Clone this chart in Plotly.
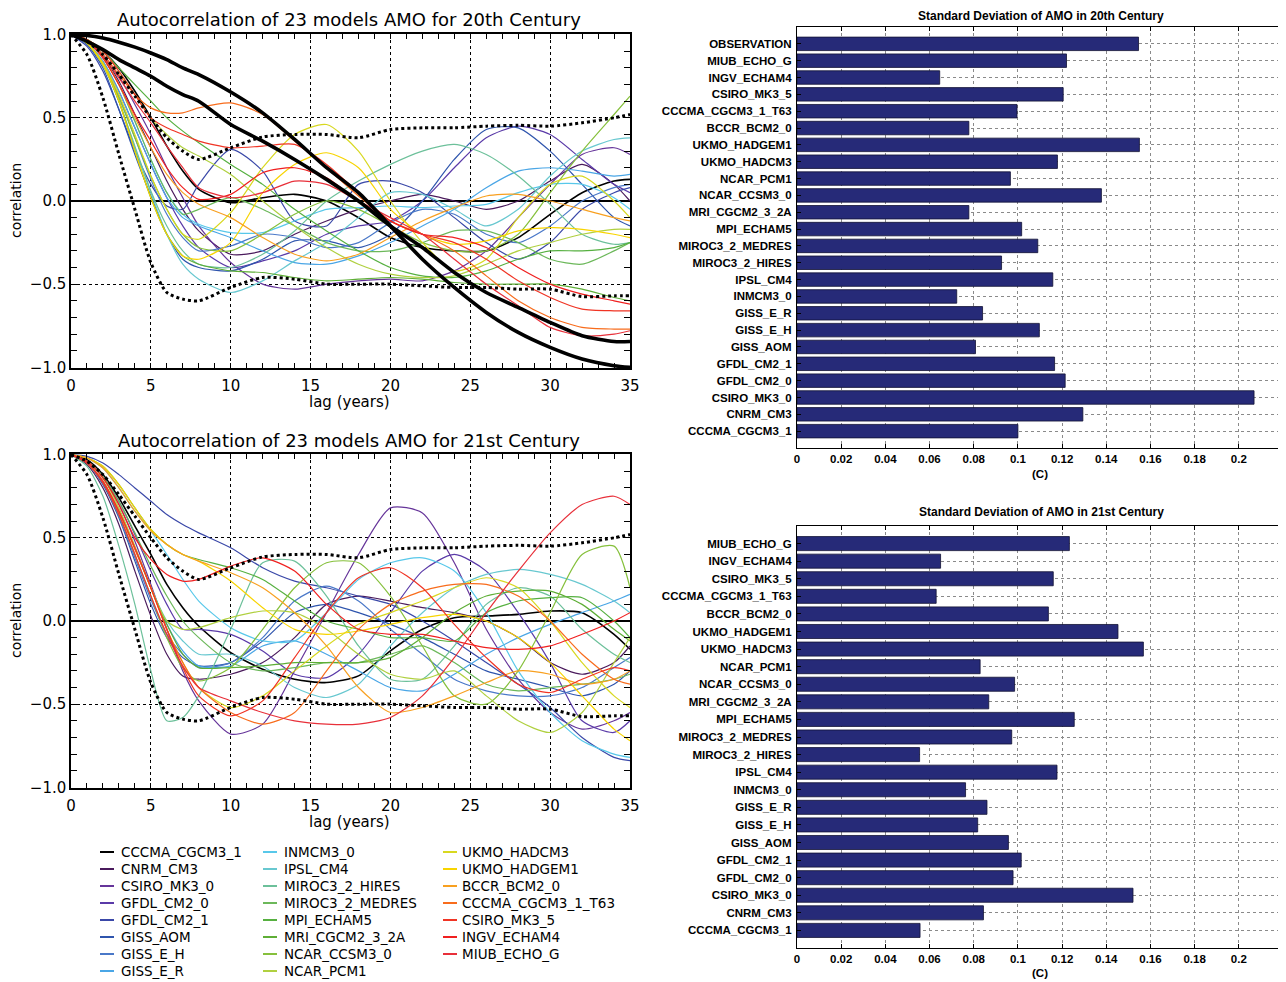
import plotly.graph_objects as go

W, H = 1286, 982
OFF = 8  # the page body margin shifts the figure by this many pixels

# ---------------- data ----------------
LAG = [0, 1, 2, 3, 4, 5, 6, 7, 8, 10, 12, 14, 16, 18, 20, 22, 24, 26, 28, 30, 32, 34, 35]

MODELS = ["CCCMA_CGCM3_1", "CNRM_CM3", "CSIRO_MK3_0", "GFDL_CM2_0", "GFDL_CM2_1", "GISS_AOM",
          "GISS_E_H", "GISS_E_R", "INMCM3_0", "IPSL_CM4", "MIROC3_2_HIRES", "MIROC3_2_MEDRES",
          "MPI_ECHAM5", "MRI_CGCM2_3_2A", "NCAR_CCSM3_0", "NCAR_PCM1", "UKMO_HADCM3", "UKMO_HADGEM1",
          "BCCR_BCM2_0", "CCCMA_CGCM3_1_T63", "CSIRO_MK3_5", "INGV_ECHAM4", "MIUB_ECHO_G"]

COLORS = ["#000000", "#4a1a5c", "#66359a", "#5a3aa8", "#3a48a8", "#2f55ad", "#4a78c8", "#4aa6e6",
          "#58c8ea", "#68c8d0", "#6cc09a", "#6cb85a", "#56b040", "#5eae36", "#86c03c", "#b0d040",
          "#d8d820", "#f8d400", "#f8a020", "#f86c1c", "#f03424", "#f02020", "#e8303a"]

# 20th century autocorrelation (values at LAG)
A20_CCCMA_CGCM3_1 = [1, 0.97, 0.9, 0.8, 0.66, 0.5, 0.33, 0.18, 0.07, -0.01, 0.02, 0.04, 0.0, -0.1, -0.22, -0.28, -0.3, -0.3, -0.22, -0.08, 0.05, 0.12, 0.13]
A20_CNRM_CM3 = [1, 0.96, 0.87, 0.72, 0.52, 0.32, 0.12, -0.05, -0.18, -0.32, -0.3, -0.2, -0.12, -0.05, 0.0, 0.04, 0.0, -0.05, 0.0, 0.12, 0.22, 0.1, 0.0]
A20_CSIRO_MK3_0 = [1, 0.96, 0.88, 0.75, 0.58, 0.4, 0.2, 0.02, -0.15, -0.37, -0.5, -0.53, -0.5, -0.48, -0.47, -0.48, -0.42, -0.3, -0.1, 0.1, 0.28, 0.32, 0.28]
A20_GFDL_CM2_0 = [1, 0.95, 0.84, 0.66, 0.44, 0.22, 0.02, -0.15, -0.28, -0.4, -0.36, -0.3, -0.2, -0.15, -0.12, 0.0, 0.2, 0.38, 0.45, 0.4, 0.25, 0.1, 0.05]
A20_GFDL_CM2_1 = [1, 0.93, 0.78, 0.55, 0.3, 0.1, -0.03, -0.05, 0.1, 0.31, 0.18, -0.12, -0.15, 0.1, 0.12, 0.05, -0.1, -0.25, -0.35, -0.25, -0.05, 0.05, 0.08]
A20_GISS_AOM = [1, 0.94, 0.8, 0.55, 0.28, 0.03, -0.2, -0.35, -0.4, -0.42, -0.35, -0.24, -0.24, -0.28, -0.2, 0.0, 0.25, 0.43, 0.44, 0.3, 0.1, -0.1, -0.15]
A20_GISS_E_H = [1, 0.95, 0.83, 0.63, 0.38, 0.13, -0.08, -0.22, -0.3, -0.27, -0.2, -0.22, -0.28, -0.25, -0.13, -0.05, -0.08, -0.2, -0.25, -0.15, 0.0, 0.08, 0.1]
A20_GISS_E_R = [1, 0.95, 0.84, 0.66, 0.44, 0.22, 0.02, -0.1, -0.15, -0.22, -0.3, -0.37, -0.38, -0.33, -0.25, -0.15, -0.05, 0.08, 0.18, 0.2, 0.18, 0.15, 0.16]
A20_INMCM3_0 = [1, 0.96, 0.86, 0.7, 0.48, 0.25, 0.05, -0.08, -0.14, -0.19, -0.19, -0.12, -0.05, -0.04, -0.03, -0.04, -0.03, -0.02, 0.05, 0.1, 0.1, 0.02, -0.05]
A20_IPSL_CM4 = [1, 0.95, 0.82, 0.6, 0.32, 0.05, -0.2, -0.38, -0.47, -0.55, -0.48, -0.36, -0.25, -0.1, 0.05, 0.04, -0.05, -0.15, -0.05, 0.15, 0.3, 0.37, 0.38]
A20_MIROC3_2_HIRES = [1, 0.95, 0.82, 0.6, 0.33, 0.06, -0.15, -0.3, -0.38, -0.4, -0.32, -0.18, 0.0, 0.12, 0.22, 0.3, 0.34, 0.28, 0.15, -0.02, -0.2, -0.26, -0.25]
A20_MIROC3_2_MEDRES = [1, 0.96, 0.86, 0.7, 0.48, 0.25, 0.05, -0.08, -0.05, 0.02, -0.05, -0.15, -0.25, -0.3, -0.3, -0.25, -0.18, -0.18, -0.25, -0.35, -0.38, -0.3, -0.25]
A20_MPI_ECHAM5 = [1, 0.97, 0.9, 0.8, 0.7, 0.6, 0.5, 0.42, 0.35, 0.22, 0.1, -0.05, -0.18, -0.3, -0.4, -0.45, -0.46, -0.42, -0.35, -0.3, -0.3, -0.28, -0.25]
A20_MRI_CGCM2_3_2A = [1, 0.95, 0.82, 0.6, 0.3, 0.02, -0.2, -0.33, -0.38, -0.42, -0.43, -0.46, -0.48, -0.47, -0.46, -0.47, -0.49, -0.5, -0.5, -0.5, -0.53, -0.58, -0.6]
A20_NCAR_CCSM3_0 = [1, 0.95, 0.82, 0.62, 0.38, 0.15, -0.05, -0.2, -0.28, -0.3, -0.2, -0.08, 0.0, -0.05, -0.15, -0.25, -0.3, -0.3, -0.2, 0.05, 0.3, 0.52, 0.63]
A20_NCAR_PCM1 = [1, 0.97, 0.9, 0.78, 0.64, 0.5, 0.4, 0.32, 0.27, 0.16, 0.0, -0.15, -0.28, -0.38, -0.44, -0.46, -0.45, -0.38, -0.3, -0.25, -0.2, -0.17, -0.17]
A20_UKMO_HADCM3 = [1, 0.95, 0.83, 0.64, 0.4, 0.15, -0.05, -0.2, -0.23, -0.07, 0.2, 0.4, 0.46, 0.3, 0.0, -0.25, -0.42, -0.35, -0.1, 0.1, 0.15, 0.0, -0.1]
A20_UKMO_HADGEM1 = [1, 0.95, 0.82, 0.6, 0.3, 0.02, -0.2, -0.33, -0.35, -0.25, 0.05, 0.22, 0.29, 0.2, -0.05, -0.2, -0.26, -0.24, -0.18, -0.16, -0.17, -0.2, -0.22]
A20_BCCR_BCM2_0 = [1, 0.96, 0.86, 0.7, 0.5, 0.32, 0.16, 0.05, -0.02, -0.1, -0.22, -0.32, -0.36, -0.32, -0.22, -0.12, -0.04, 0.03, 0.04, 0.0, -0.05, -0.1, -0.12]
A20_CCCMA_CGCM3_1_T63 = [1, 0.97, 0.88, 0.76, 0.64, 0.56, 0.53, 0.53, 0.56, 0.59, 0.52, 0.36, 0.2, 0.03, -0.12, -0.2, -0.3, -0.45, -0.6, -0.7, -0.76, -0.77, -0.77]
A20_CSIRO_MK3_5 = [1, 0.97, 0.9, 0.78, 0.64, 0.5, 0.44, 0.4, 0.36, 0.32, 0.33, 0.34, 0.22, 0.05, -0.12, -0.2, -0.25, -0.35, -0.48, -0.58, -0.65, -0.66, -0.66]
A20_INGV_ECHAM4 = [1, 0.96, 0.86, 0.7, 0.52, 0.36, 0.2, 0.08, 0.01, 0.04, 0.17, 0.2, 0.14, 0.0, -0.12, -0.2, -0.22, -0.28, -0.4, -0.5, -0.56, -0.6, -0.62]
A20_MIUB_ECHO_G = [1, 0.96, 0.87, 0.74, 0.6, 0.47, 0.33, 0.2, 0.08, 0.02, 0.05, 0.12, 0.1, 0.0, -0.1, -0.2, -0.35, -0.5, -0.63, -0.76, -0.81, -0.8, -0.78]

# observed autocorrelation curves (thick black, 20th century panel)
OBS_A = [1, 0.995, 0.98, 0.955, 0.925, 0.89, 0.85, 0.8, 0.76, 0.655, 0.53, 0.37, 0.2, 0.05, -0.15, -0.35, -0.52, -0.67, -0.79, -0.88, -0.95, -0.99, -1.0]
OBS_B = [1, 0.96, 0.91, 0.85, 0.8, 0.75, 0.69, 0.64, 0.6, 0.46, 0.36, 0.25, 0.13, 0.0, -0.15, -0.28, -0.43, -0.55, -0.64, -0.73, -0.81, -0.845, -0.845]
# dotted bounds (both panels)
BOUND_UP = [1, 0.96, 0.88, 0.76, 0.63, 0.5, 0.38, 0.3, 0.25, 0.32, 0.385, 0.4, 0.4, 0.38, 0.43, 0.44, 0.44, 0.45, 0.455, 0.45, 0.47, 0.5, 0.52]
BOUND_LO = [1, 0.88, 0.62, 0.28, -0.05, -0.37, -0.55, -0.59, -0.6, -0.52, -0.46, -0.47, -0.5, -0.5, -0.5, -0.51, -0.52, -0.52, -0.53, -0.53, -0.575, -0.57, -0.57]

# 21st century autocorrelation
A21_CCCMA_CGCM3_1 = [1, 0.97, 0.88, 0.74, 0.57, 0.4, 0.22, 0.08, -0.03, -0.19, -0.29, -0.35, -0.37, -0.33, -0.18, -0.05, 0.02, 0.03, 0.04, 0.06, 0.05, -0.08, -0.17]
A21_CNRM_CM3 = [1, 0.94, 0.8, 0.58, 0.3, 0.03, -0.2, -0.33, -0.35, -0.32, -0.25, -0.1, 0.1, 0.15, 0.12, 0.08, 0.05, 0.0, -0.1, -0.25, -0.32, -0.25, -0.15]
A21_CSIRO_MK3_0 = [1, 0.96, 0.86, 0.7, 0.48, 0.22, -0.05, -0.3, -0.48, -0.68, -0.62, -0.3, 0.05, 0.4, 0.68, 0.65, 0.35, -0.05, -0.35, -0.55, -0.65, -0.6, -0.55]
A21_GFDL_CM2_0 = [1, 0.96, 0.87, 0.72, 0.52, 0.3, 0.1, -0.05, -0.05, -0.08, -0.18, -0.32, -0.34, -0.2, 0.05, 0.3, 0.4, 0.3, 0.05, -0.25, -0.6, -0.67, -0.6]
A21_GFDL_CM2_1 = [1, 0.99, 0.95, 0.88, 0.8, 0.72, 0.64, 0.58, 0.53, 0.44, 0.32, 0.24, 0.2, 0.15, 0.1, 0.0, -0.12, -0.25, -0.38, -0.52, -0.7, -0.82, -0.84]
A21_GISS_AOM = [1, 0.95, 0.82, 0.62, 0.36, 0.1, -0.1, -0.22, -0.27, -0.25, -0.12, 0.05, 0.1, 0.05, -0.02, -0.1, -0.2, -0.3, -0.35, -0.4, -0.45, -0.38, -0.3]
A21_GISS_E_H = [1, 0.95, 0.83, 0.63, 0.38, 0.13, -0.08, -0.2, -0.28, -0.25, -0.1, 0.12, 0.21, 0.12, -0.05, -0.2, -0.35, -0.42, -0.45, -0.45, -0.4, -0.28, -0.22]
A21_GISS_E_R = [1, 0.95, 0.84, 0.66, 0.44, 0.2, -0.02, -0.18, -0.27, -0.27, -0.15, -0.12, -0.2, -0.3, -0.4, -0.42, -0.32, -0.2, -0.1, -0.02, 0.05, 0.12, 0.16]
A21_INMCM3_0 = [1, 0.98, 0.92, 0.8, 0.66, 0.54, 0.4, 0.25, 0.12, -0.04, -0.12, -0.12, 0.05, 0.25, 0.35, 0.38, 0.3, 0.05, -0.3, -0.55, -0.72, -0.8, -0.82]
A21_IPSL_CM4 = [1, 0.95, 0.84, 0.66, 0.44, 0.2, 0.0, -0.12, -0.2, -0.2, -0.27, -0.4, -0.46, -0.38, -0.15, 0.05, 0.2, 0.28, 0.31, 0.28, 0.22, 0.12, 0.05]
A21_MIROC3_2_HIRES = [1, 0.93, 0.75, 0.45, 0.1, -0.3, -0.6, -0.58, -0.45, -0.05, 0.35, 0.36, 0.15, -0.15, -0.35, -0.35, -0.15, 0.1, 0.2, 0.15, -0.05, -0.2, -0.25]
A21_MIROC3_2_MEDRES = [1, 0.96, 0.87, 0.72, 0.53, 0.33, 0.15, 0.0, -0.1, -0.25, -0.3, -0.28, -0.25, -0.25, -0.2, -0.15, -0.25, -0.38, -0.42, -0.4, -0.38, -0.35, -0.32]
A21_MPI_ECHAM5 = [1, 0.98, 0.93, 0.82, 0.68, 0.55, 0.46, 0.4, 0.37, 0.32, 0.25, 0.12, 0.0, -0.05, -0.1, -0.1, -0.12, 0.05, 0.12, 0.14, 0.14, 0.0, -0.1]
A21_MRI_CGCM2_3_2A = [1, 0.95, 0.84, 0.66, 0.44, 0.2, -0.02, -0.2, -0.28, -0.28, -0.27, -0.25, -0.25, -0.25, -0.22, -0.1, 0.05, 0.15, 0.18, 0.18, 0.1, -0.05, -0.12]
A21_NCAR_CCSM3_0 = [1, 0.95, 0.83, 0.64, 0.4, 0.15, -0.1, -0.28, -0.36, -0.28, -0.05, 0.2, 0.35, 0.35, 0.15, -0.15, -0.45, -0.5, -0.3, 0.05, 0.4, 0.45, 0.2]
A21_NCAR_PCM1 = [1, 0.96, 0.86, 0.68, 0.45, 0.2, 0.0, -0.05, -0.04, 0.02, 0.06, 0.05, -0.05, -0.2, -0.32, -0.35, -0.3, -0.45, -0.6, -0.67, -0.55, -0.25, -0.1]
A21_UKMO_HADCM3 = [1, 0.95, 0.84, 0.66, 0.44, 0.2, -0.05, -0.25, -0.4, -0.52, -0.45, -0.3, -0.15, -0.02, 0.05, 0.12, 0.2, 0.26, 0.2, 0.0, -0.25, -0.45, -0.52]
A21_UKMO_HADGEM1 = [1, 0.98, 0.93, 0.82, 0.68, 0.55, 0.46, 0.4, 0.36, 0.24, 0.08, -0.05, -0.08, -0.06, -0.02, 0.02, 0.04, 0.0, -0.1, -0.25, -0.45, -0.65, -0.72]
A21_BCCR_BCM2_0 = [1, 0.98, 0.92, 0.8, 0.66, 0.54, 0.46, 0.4, 0.36, 0.29, 0.2, 0.05, -0.15, -0.4, -0.55, -0.52, -0.45, -0.37, -0.3, -0.32, -0.38, -0.35, -0.3]
A21_CCCMA_CGCM3_1_T63 = [1, 0.95, 0.84, 0.66, 0.43, 0.2, -0.05, -0.25, -0.4, -0.55, -0.62, -0.55, -0.3, -0.05, 0.1, 0.18, 0.22, 0.22, 0.15, 0.0, -0.2, -0.35, -0.38]
A21_CSIRO_MK3_5 = [1, 0.95, 0.84, 0.66, 0.44, 0.2, -0.05, -0.28, -0.45, -0.57, -0.48, -0.22, 0.05, 0.26, 0.32, 0.2, -0.02, -0.22, -0.38, -0.43, -0.35, -0.28, -0.3]
A21_INGV_ECHAM4 = [1, 0.96, 0.86, 0.7, 0.5, 0.37, 0.28, 0.24, 0.25, 0.33, 0.38, 0.3, 0.1, -0.05, -0.08, -0.08, -0.12, -0.16, -0.17, -0.15, -0.08, 0.0, 0.05]
A21_MIUB_ECHO_G = [1, 0.95, 0.83, 0.64, 0.4, 0.15, -0.08, -0.27, -0.4, -0.48, -0.55, -0.6, -0.62, -0.62, -0.58, -0.45, -0.22, 0.05, 0.3, 0.53, 0.7, 0.75, 0.7]

# standard deviation bars (top to bottom as shown)
SD20_NAMES = ["OBSERVATION", "MIUB_ECHO_G", "INGV_ECHAM4", "CSIRO_MK3_5", "CCCMA_CGCM3_1_T63", "BCCR_BCM2_0",
              "UKMO_HADGEM1", "UKMO_HADCM3", "NCAR_PCM1", "NCAR_CCSM3_0", "MRI_CGCM2_3_2A", "MPI_ECHAM5",
              "MIROC3_2_MEDRES", "MIROC3_2_HIRES", "IPSL_CM4", "INMCM3_0", "GISS_E_R", "GISS_E_H",
              "GISS_AOM", "GFDL_CM2_1", "GFDL_CM2_0", "CSIRO_MK3_0", "CNRM_CM3", "CCCMA_CGCM3_1"]
SD20_VALUES = [0.1546, 0.122, 0.0646, 0.1205, 0.0996, 0.0778, 0.155, 0.1179, 0.0966, 0.1378, 0.0778, 0.1017,
               0.109, 0.0926, 0.1158, 0.0723, 0.084, 0.1097, 0.0808, 0.1166, 0.1214, 0.2069, 0.1294, 0.1]
SD21_NAMES = SD20_NAMES[1:]
SD21_VALUES = [0.1233, 0.065, 0.116, 0.063, 0.1138, 0.1453, 0.1568, 0.0829, 0.0985, 0.0868, 0.1255, 0.0972,
               0.0555, 0.1177, 0.0763, 0.086, 0.0818, 0.0957, 0.1015, 0.0978, 0.1521, 0.0844, 0.0557]

LAG_TICKS = [0, 5, 10, 15, 20, 25, 30, 35]
CORR_TICKS = [-1.0, -0.5, 0.0, 0.5, 1.0]
SD_TICKS = [0, 0.02, 0.04, 0.06, 0.08, 0.1, 0.12, 0.14, 0.16, 0.18, 0.2]

AC20 = [A20_CCCMA_CGCM3_1, A20_CNRM_CM3, A20_CSIRO_MK3_0, A20_GFDL_CM2_0, A20_GFDL_CM2_1, A20_GISS_AOM,
        A20_GISS_E_H, A20_GISS_E_R, A20_INMCM3_0, A20_IPSL_CM4, A20_MIROC3_2_HIRES, A20_MIROC3_2_MEDRES,
        A20_MPI_ECHAM5, A20_MRI_CGCM2_3_2A, A20_NCAR_CCSM3_0, A20_NCAR_PCM1, A20_UKMO_HADCM3, A20_UKMO_HADGEM1,
        A20_BCCR_BCM2_0, A20_CCCMA_CGCM3_1_T63, A20_CSIRO_MK3_5, A20_INGV_ECHAM4, A20_MIUB_ECHO_G]
AC21 = [A21_CCCMA_CGCM3_1, A21_CNRM_CM3, A21_CSIRO_MK3_0, A21_GFDL_CM2_0, A21_GFDL_CM2_1, A21_GISS_AOM,
        A21_GISS_E_H, A21_GISS_E_R, A21_INMCM3_0, A21_IPSL_CM4, A21_MIROC3_2_HIRES, A21_MIROC3_2_MEDRES,
        A21_MPI_ECHAM5, A21_MRI_CGCM2_3_2A, A21_NCAR_CCSM3_0, A21_NCAR_PCM1, A21_UKMO_HADCM3, A21_UKMO_HADGEM1,
        A21_BCCR_BCM2_0, A21_CCCMA_CGCM3_1_T63, A21_CSIRO_MK3_5, A21_INGV_ECHAM4, A21_MIUB_ECHO_G]

# ---------------- helpers ----------------
def px(x):
    return (x - OFF) / W


def py(y):
    return 1 - (y - OFF) / H


LFONT = "DejaVu Sans"
BFONT = "Liberation Sans"

fig = go.Figure()

# autocorrelation panels
for k, (series, xa, ya) in enumerate([(AC20, "x", "y"), (AC21, "x2", "y2")]):
    for i, vals in enumerate(series):
        fig.add_trace(go.Scatter(x=LAG, y=vals, mode="lines", name=MODELS[i], xaxis=xa, yaxis=ya,
                                 line=dict(color=COLORS[i], width=1.6 if i == 0 else 1.2,
                                           shape="spline", smoothing=0.7),
                                 showlegend=False))
    if k == 0:
        for obs in (OBS_A, OBS_B):
            fig.add_trace(go.Scatter(x=LAG, y=obs, mode="lines", xaxis=xa, yaxis=ya,
                                     line=dict(color="black", width=3.6, shape="spline", smoothing=0.7),
                                     showlegend=False))
    for bnd in (BOUND_UP, BOUND_LO):
        fig.add_trace(go.Scatter(x=LAG, y=bnd, mode="lines", xaxis=xa, yaxis=ya,
                                 line=dict(color="black", width=3, dash="dot", shape="spline", smoothing=0.7),
                                 showlegend=False))

# bar panels
BAR_COLOR = "#262a78"
fig.add_trace(go.Bar(x=SD20_VALUES, y=SD20_NAMES, orientation="h", xaxis="x3", yaxis="y3",
                     marker=dict(color=BAR_COLOR, line=dict(color="#111133", width=0.8)),
                     width=0.8, showlegend=False))
fig.add_trace(go.Bar(x=SD21_VALUES, y=SD21_NAMES, orientation="h", xaxis="x4", yaxis="y4",
                     marker=dict(color=BAR_COLOR, line=dict(color="#111133", width=0.8)),
                     width=0.8, showlegend=False))


def lag_axis(dom_y_anchor):
    return dict(anchor=dom_y_anchor, domain=[px(71), px(630)], range=[0, 35], automargin=False,
                tickvals=LAG_TICKS, ticks="inside", ticklen=5, tickcolor="black",
                minor=dict(dtick=1, ticks="inside", ticklen=5, tickcolor="black", showgrid=False),
                showline=True, linecolor="black", linewidth=1.5, mirror="ticks",
                showgrid=True, gridcolor="black", griddash="dot", gridwidth=1,
                zeroline=False, ticklabelstandoff=3,
                tickfont=dict(family=LFONT, size=15, color="black"))


def corr_axis(anchor, top, bottom):
    return dict(anchor=anchor, domain=[py(bottom), py(top)], range=[-1.004, 1.004], automargin=False,
                tickvals=CORR_TICKS, tickformat=".1f", ticks="inside", ticklen=6, tickcolor="black",
                minor=dict(dtick=0.1, ticks="inside", ticklen=6, tickcolor="black", showgrid=False),
                showline=True, linecolor="black", linewidth=1.5, mirror="ticks",
                showgrid=True, gridcolor="black", griddash="dot", gridwidth=1,
                zeroline=True, zerolinecolor="black", zerolinewidth=1.5,
                tickfont=dict(family=LFONT, size=15, color="black"))


def sd_xaxis(anchor):
    return dict(anchor=anchor, domain=[px(797), px(1283)], range=[0, 0.22], automargin=False,
                tickvals=SD_TICKS, ticktext=[f"{v:g}" for v in SD_TICKS],
                ticks="inside", ticklen=4, tickcolor="black",
                showline=True, linecolor="black", linewidth=1.2, mirror="ticks",
                showgrid=True, gridcolor="#8a8a8a", griddash="dot", gridwidth=1, zeroline=False,
                tickfont=dict(family=BFONT, size=11.5, color="black", weight="bold"))


def sd_yaxis(anchor, top, bottom, names):
    return dict(anchor=anchor, domain=[py(bottom), py(top)], type="category", automargin=False,
                categoryorder="array", categoryarray=names, range=[len(names), -1],
                ticks="inside", ticklen=4, tickcolor="black",
                showline=True, linecolor="black", linewidth=1.2, mirror="ticks",
                showgrid=True, gridcolor="#8a8a8a", griddash="dot", gridwidth=1, zeroline=False,
                ticklabelstandoff=2,
                tickfont=dict(family=BFONT, size=11.5, color="black", weight="bold"))


fig.update_layout(
    width=W, height=H, margin=dict(l=0, r=0, t=0, b=0, pad=0, autoexpand=False),
    paper_bgcolor="white", plot_bgcolor="white", showlegend=False, bargap=0.2,
    xaxis=lag_axis("y"), yaxis=corr_axis("x", 34, 368),
    xaxis2=lag_axis("y2"), yaxis2=corr_axis("x2", 454, 788),
    xaxis3=sd_xaxis("y3"), yaxis3=sd_yaxis("x3", 27, 448, SD20_NAMES),
    xaxis4=sd_xaxis("y4"), yaxis4=sd_yaxis("x4", 526, 948, SD21_NAMES),
)

ann = []


def text(x, y, s, size, family=LFONT, angle=0, bold=False, xanchor="center"):
    ann.append(dict(x=px(x), y=py(y), xref="paper", yref="paper", text=s, showarrow=False,
                    xanchor=xanchor, yanchor="middle", textangle=angle,
                    font=dict(family=family, size=size, color="black", weight="bold" if bold else "normal")))


text(349, 20, "Autocorrelation of 23 models AMO for 20th Century", 18)
text(349, 440, "Autocorrelation of 23 models AMO for 21st Century", 18)
text(349, 402, "lag (years)", 15)
text(349, 822, "lag (years)", 15)
text(16, 201, "correlation", 14, angle=-90)
text(16, 621, "correlation", 14, angle=-90)
text(1041, 16, "Standard Deviation of AMO in 20th Century", 12, family=BFONT, bold=True)
text(1041, 512, "Standard Deviation of AMO in 21st Century", 12, family=BFONT, bold=True)
text(1040, 474, "(C)", 11.5, family=BFONT, bold=True)
text(1040, 973, "(C)", 11.5, family=BFONT, bold=True)

# legend (three columns, column-major)
KEY_X = [100, 263, 443]
TXT_X = [119, 282, 460]
shapes = []
for i, name in enumerate(MODELS):
    col, row = divmod(i, 8)
    yy = 852 + 17 * row
    shapes.append(dict(type="line", xref="paper", yref="paper",
                       x0=px(KEY_X[col]), x1=px(KEY_X[col] + 14), y0=py(yy), y1=py(yy),
                       line=dict(color=COLORS[i], width=2)))
    text(TXT_X[col], yy, name, 13.5, xanchor="left")

fig.update_layout(annotations=ann, shapes=shapes)
fig.write_html("out.html")
